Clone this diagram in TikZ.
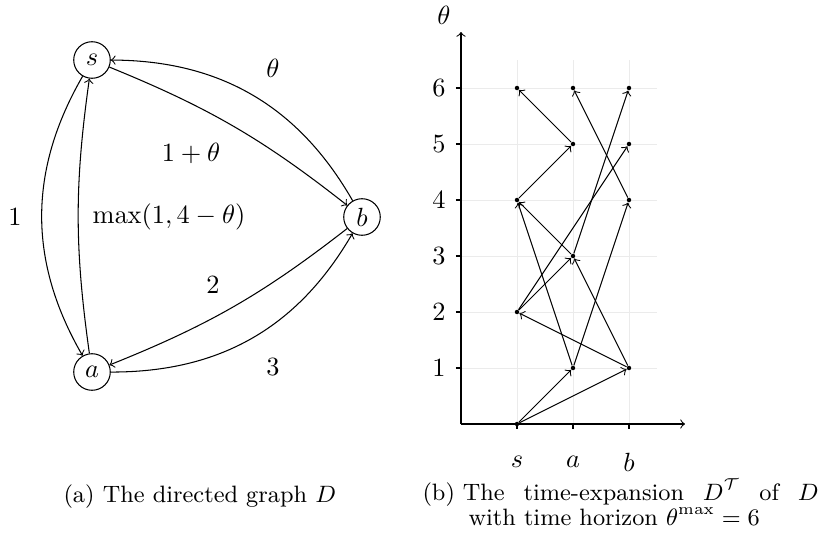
\documentclass[tikz,border=0pt]{standalone}
\usepackage{amsmath}
\begin{document}
\begin{tikzpicture}[x=0.38pt,y=-0.38pt,
  vtx/.style={circle,draw,minimum size=13.9pt,inner sep=0pt},
  dot/.style={circle,fill,inner sep=0pt,minimum size=1.7pt},
  arc/.style={->},
  gridline/.style={black!8,line width=0.3pt},
  lbl/.style={inner sep=1pt},
  captxt/.style={inner sep=0pt,anchor=base west,font=\fontsize{9}{9.5}\selectfont}
]
\useasboundingbox (0,0) rectangle (823,545);
% ---------- left graph ----------
\node[vtx] (s) at (92,60) {$s$};
\node[vtx] (a) at (92,372) {$a$};
\node[vtx] (b) at (362,217) {$b$};
\draw[arc] (s) to[bend right=30] (a);
\draw[arc] (a) to[bend left=8] (s);
\draw[arc] (b) to[bend right=30] (s);
\draw[arc] (s) to[bend left=8] (b);
\draw[arc] (a) to[bend right=30] (b);
\draw[arc] (b) to[bend left=8] (a);
\node[lbl] (l1) at (15,217) {$1$};
\node[lbl] (lmax) at (169,217) {$\max(1,4-\theta)$};
\node[lbl] (lth) at (273,68) {$\theta$};
\node[lbl] (l1th) at (191,153) {$1+\theta$};
\node[lbl] (l2) at (213,285) {$2$};
\node[lbl] (l3) at (273,367) {$3$};
% ---------- right graph ----------
\foreach \yy in {368,312,256,200,144,88} \draw[gridline] (461,\yy) -- (657,\yy);
\foreach \xx in {517,573,629} \draw[gridline] (\xx,424) -- (\xx,60);
\coordinate (O) at (461,424);
\coordinate (xend) at (685,424);
\coordinate (yend) at (461,32);
\draw[->] (O) -- (xend);
\draw[->] (O) -- (yend);
\foreach \yy/\t in {368/1,312/2,256/3,200/4,144/5,88/6}{
  \draw (456,\yy) -- (461,\yy);
  \node[lbl] (t\t) at (439,\yy) {$\t$};
}
\foreach \xx in {517,573,629} \draw (\xx,424) -- (\xx,429);
\node[lbl] (yl) at (444,15) {$\theta$};
\node[lbl] (xs) at (517,462) {$s$};
\node[lbl] (xa) at (573,462) {$a$};
\node[lbl] (xb) at (629,462) {$b$};
% vertices
\node[dot] (s0) at (517,424) {};
\node[dot] (a1) at (573,368) {};
\node[dot] (b1) at (629,368) {};
\node[dot] (s2) at (517,312) {};
\node[dot] (a3) at (573,256) {};
\node[dot] (s4) at (517,200) {};
\node[dot] (b4) at (629,200) {};
\node[dot] (a5) at (573,144) {};
\node[dot] (b5) at (629,144) {};
\node[dot] (s6) at (517,88) {};
\node[dot] (a6) at (573,88) {};
\node[dot] (b6) at (629,88) {};
% arcs
\draw[arc] (s0) -- (a1);
\draw[arc] (s0) -- (b1);
\draw[arc] (b1) -- (s2);
\draw[arc] (b1) -- (a3);
\draw[arc] (a1) -- (s4);
\draw[arc] (a1) -- (b4);
\draw[arc] (s2) -- (a3);
\draw[arc] (s2) -- (b5);
\draw[arc] (a3) -- (s4);
\draw[arc] (a3) -- (b6);
\draw[arc] (s4) -- (a5);
\draw[arc] (a5) -- (s6);
\draw[arc] (b4) -- (a6);
% ---------- captions ----------
\node[captxt] (capa) at (63,502) {(a) The directed graph $D$};
\node[captxt] (capb) at (422,525) {\parbox[b]{150.5pt}{\baselineskip=9.5pt\lineskiplimit=-20pt\lineskip=0pt
  \makebox[150.5pt][s]{(b)\hspace{0.333em}The time-expansion $D^{\mathcal{T}}$ of $D$}\par
  \hspace*{17.5pt}with time horizon $\theta^{\max}=6$}};
\end{tikzpicture}
\end{document}
